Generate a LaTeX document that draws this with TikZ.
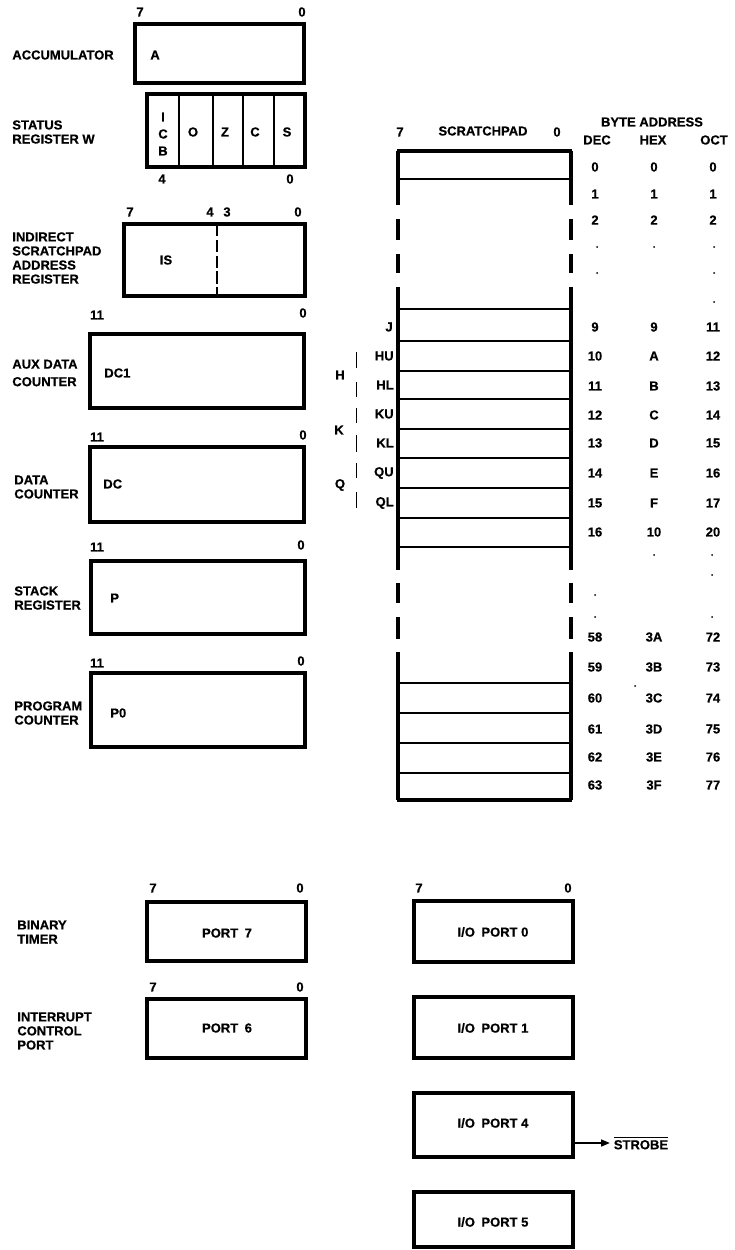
\documentclass[tikz,border=0pt]{standalone}
\usepackage{fontspec}
\setmainfont{Liberation Sans}[BoldFeatures={FakeBold=0.6}]
\usetikzlibrary{fit,arrows.meta}
\begin{document}
\begin{tikzpicture}[x=0.02cm,y=-0.02cm,
  txt/.style={font=\bfseries\fontsize{7.4}{8}\selectfont, inner sep=0pt},
  lbl/.style={txt, anchor=west, align=left},
  reg/.style={draw, line width=2pt, inner sep=0pt},
  divider/.style={line width=1.4pt},
  padline/.style={line width=1.3pt},
  wall/.style={line width=1.9pt},
  brk/.style={line width=0.5pt},
  arr/.style={line width=1.1pt, -{Triangle[length=5pt,width=3.8pt]}},
  dotmark/.style={fill=black}
]
\useasboundingbox (0,0) rectangle (734,1250);

% ---------- Accumulator
\node[reg, fit={(135,24)(304,83)}] (acc) {};
\node[txt, anchor=west] (accA) at (150,55) {A};
\node[lbl] (accL) at (12,55) {ACCUMULATOR};
\node[txt] (acc7) at (140,12) {7};
\node[txt] (acc0) at (302,12) {0};

% ---------- Status register W
\node[reg, fit={(147,94)(305,167)}] (sw) {};
\foreach \xx in {179,213,243,274} \draw[divider] (\xx,94) -- (\xx,167);
\node[txt] (swI) at (163,117) {I};
\node[txt] (swC1) at (163,134) {C};
\node[txt] (swB) at (163,151) {B};
\node[txt] (swO) at (193,132) {O};
\node[txt] (swZ) at (225,132) {Z};
\node[txt] (swC) at (255,132) {C};
\node[txt] (swS) at (287,132) {S};
\node[txt] (sw4) at (162,179) {4};
\node[txt] (sw0) at (290,179) {0};
\node[lbl] (swL) at (12,132) {STATUS\\REGISTER W};

% ---------- Indirect scratchpad address register
\node[reg, fit={(124,224)(305,296)}] (isr) {};
\draw[divider, dash pattern=on 7pt off 2pt] (217,224) -- (217,296);
\node[txt] (isT) at (166,260) {IS};
\node[txt] (is7) at (130,212) {7};
\node[txt] (is4) at (210,212) {4};
\node[txt] (is3) at (227,212) {3};
\node[txt] (is0) at (298,212) {0};
\node[lbl] (isL) at (12,258) {INDIRECT\\SCRATCHPAD\\ADDRESS\\REGISTER};

% ---------- Aux data counter
\node[reg, fit={(90,334)(304,408)}] (dc1) {};
\node[txt, anchor=west] (dc1T) at (104,373) {DC1};
\node[txt] (dc111) at (97,315) {11};
\node[txt] (dc10) at (303,313) {0};
\node[lbl] (dc1L) at (12,373) {AUX DATA\\[2pt]COUNTER};

% ---------- Data counter
\node[reg, fit={(90,447)(304,522)}] (dc) {};
\node[txt, anchor=west] (dcT) at (103,484) {DC};
\node[txt] (dc11) at (97,437) {11};
\node[txt] (dc0) at (303,435) {0};
\node[lbl] (dcL) at (14,487) {DATA\\COUNTER};

% ---------- Stack register
\node[reg, fit={(91,561)(305,634)}] (sr) {};
\node[txt, anchor=west] (srT) at (110,598) {P};
\node[txt] (sr11) at (97,547) {11};
\node[txt] (sr0) at (301,545) {0};
\node[lbl] (srL) at (14,598) {STACK\\REGISTER};

% ---------- Program counter
\node[reg, fit={(91,673)(305,747)}] (pc) {};
\node[txt, anchor=west] (pcT) at (110,713) {P0};
\node[txt] (pc11) at (97,663) {11};
\node[txt] (pc0) at (301,661) {0};
\node[lbl] (pcL) at (14,713) {PROGRAM\\COUNTER};

% ---------- Scratchpad
\node[txt] (sp7) at (400,132) {7};
\node[txt] (spT) at (483,131) {SCRATCHPAD};
\node[txt] (sp0) at (557,132) {0};
\node[txt] (ba) at (652,122) {BYTE ADDRESS};
\node[txt] (hdec) at (597,140) {DEC};
\node[txt] (hhex) at (653,140) {HEX};
\node[txt] (hoct) at (714,140) {OCT};

\draw[wall] (397.2,151) -- (571.8,151);
\draw[wall] (397.2,800) -- (571.8,800);
\foreach \yy in {179,309,341,371,399,429,458,488,518,547,683,713,743,773}
  \draw[padline] (398,\yy) -- (571,\yy);
\foreach \xx in {398,571}{
  \draw[wall] (\xx,151) -- (\xx,205);
  \draw[wall] (\xx,219) -- (\xx,240);
  \draw[wall] (\xx,254) -- (\xx,273);
  \draw[wall] (\xx,287) -- (\xx,570);
  \draw[wall] (\xx,583) -- (\xx,603);
  \draw[wall] (\xx,617) -- (\xx,639);
  \draw[wall] (\xx,652) -- (\xx,800);
}

% byte address table
\foreach \yy/\dd/\hh/\oo/\nm in {167/0/0/0/a,194/1/1/1/b,220/2/2/2/c,327/9/9/11/d,356/10/A/12/e,386/11/B/13/f,415/12/C/14/g,443/13/D/15/h,473/14/E/16/i,503/15/F/17/j,532/16/10/20/k,637/58/3A/72/l,667/59/3B/73/m,698/60/3C/74/n,729/61/3D/75/o,757/62/3E/76/p,785/63/3F/77/q}{
  \node[txt] (dec\nm) at (595,\yy) {\dd};
  \node[txt] (hex\nm) at (654,\yy) {\hh};
  \node[txt] (oct\nm) at (713,\yy) {\oo};
}
\foreach \xx/\yy in {597/247,654/247,714/247,597/273,714/273,714/302,
                     654/555,712/555,712/575,595/595,595/617,712/617,635/686}
  \fill[dotmark] (\xx,\yy) circle (1);

% register pair names
\node[txt, anchor=east] (rJ) at (393,327) {J};
\node[txt, anchor=east] (rHU) at (394,356) {HU};
\node[txt, anchor=east] (rHL) at (394,385) {HL};
\node[txt, anchor=east] (rKU) at (394,414) {KU};
\node[txt, anchor=east] (rKL) at (394,443) {KL};
\node[txt, anchor=east] (rQU) at (394,473) {QU};
\node[txt, anchor=east] (rQL) at (394,503) {QL};
\node[txt] (rH) at (340,375) {H};
\node[txt] (rK) at (339,430) {K};
\node[txt] (rQ) at (340,485) {Q};
\draw[brk] (356,352) -- (356,368) (356,382) -- (356,397);
\draw[brk] (356,408) -- (356,423) (356,435) -- (356,452);
\draw[brk] (356,463) -- (356,478) (356,492) -- (356,508);

% ---------- Ports
\node[reg, fit={(147,902)(306,961)}] (p7) {};
\node[txt] (p7T) at (227,933) {PORT\enspace 7};
\node[txt] (p77) at (153,888) {7};
\node[txt] (p70) at (300,888) {0};
\node[lbl] (p7L) at (17,932) {BINARY\\TIMER};

\node[reg, fit={(147,999)(306,1058)}] (p6) {};
\node[txt] (p6T) at (227,1028) {PORT\enspace 6};
\node[txt] (p67) at (153,987) {7};
\node[txt] (p60) at (300,987) {0};
\node[lbl] (p6L) at (17,1031) {INTERRUPT\\CONTROL\\PORT};

\node[reg, fit={(414,901)(573,962)}] (io0) {};
\node[txt] (io0T) at (493,932) {I/O\enspace PORT 0};
\node[txt] (io07) at (419,888) {7};
\node[txt] (io00) at (568,888) {0};
\node[reg, fit={(414,997)(573,1058)}] (io1) {};
\node[txt] (io1T) at (493,1028) {I/O\enspace PORT 1};
\node[reg, fit={(414,1093)(573,1157)}] (io4) {};
\node[txt] (io4T) at (493,1123) {I/O\enspace PORT 4};
\node[reg, fit={(414,1192)(573,1247)}] (io5) {};
\node[txt] (io5T) at (493,1222) {I/O\enspace PORT 5};

\coordinate (sy) at (0,1143);
\node[txt, anchor=west, inner xsep=2pt] (strobe) at (610,1143) {$\overline{\hbox{STROBE}}$};
\draw[arr] (io4.east |- sy) -- (strobe.west);
\end{tikzpicture}
\end{document}
